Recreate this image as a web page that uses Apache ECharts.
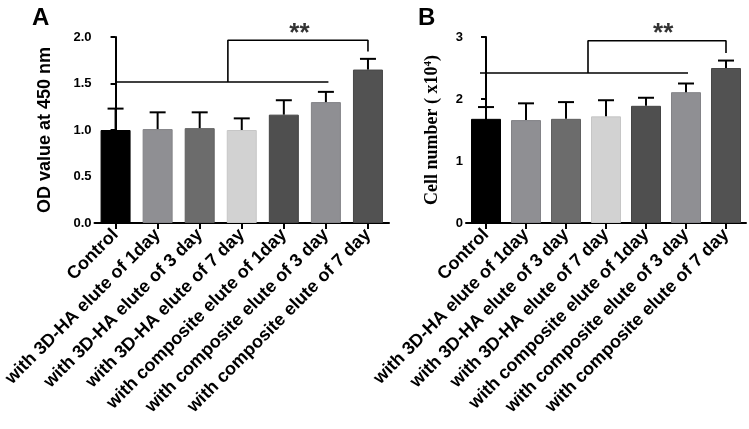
<!DOCTYPE html>
<html><head><meta charset="utf-8">
<script src="https://cdn.jsdelivr.net/npm/echarts@6/dist/echarts.min.js"></script>
<style>html,body{margin:0;padding:0;background:#fff}#c{width:749px;height:429px}</style>
</head><body><div id="c"></div>
<script>
const categories = ['Control','with 3D-HA elute of 1day','with 3D-HA elute of 3 day','with 3D-HA elute of 7 day','with composite elute of 1day','with composite elute of 3 day','with composite elute of 7 day'];
const odMeans = [1.0, 1.01, 1.02, 1.0, 1.165, 1.30, 1.65];
const odErrors = [0.23, 0.18, 0.17, 0.125, 0.155, 0.11, 0.115];
const cellMeans = [1.68, 1.66, 1.68, 1.72, 1.89, 2.11, 2.50];
const cellErrors = [0.19, 0.27, 0.27, 0.26, 0.13, 0.14, 0.12];
const odTicks = [0, 0.5, 1.0, 1.5, 2.0];
const cellTicks = [0, 1, 2, 3];
// significance brackets: [x, y] in category-index / value units
const odSigLine = [[0, 1.516], [5.06, 1.516]];
const odSigBracket = [[2.67, 1.516], [2.67, 1.965], [6, 1.965], [6, 1.845]];
const odStar = [[4.37, 2.08]];
const cellSigLine = [[-0.15, 2.42], [5.05, 2.42]];
const cellSigBracket = [[2.55, 2.42], [2.55, 2.94], [6, 2.94], [6, 2.74]];
const cellStar = [[4.43, 3.12]];

const barColors = ['#000000','#8f8f93','#6c6c6c','#d2d2d2','#4f4f4f','#8f8f93','#525252'];
const barBorders = ['#000000','#838387','#606060','#c6c6c6','#444444','#838387','#474747'];

function barData(vals){ return vals.map((v,i)=>({value:v,itemStyle:{color:barColors[i],borderColor:barBorders[i],borderWidth:1}})); }
function errData(m,e){ return m.map((v,i)=>[i, v, v+e[i]]); }
function errRender(params, api){
  const x = api.value(0);
  const p1 = api.coord([x, api.value(1)]);
  const p2 = api.coord([x, api.value(2)]);
  const half = 8;
  return {type:'group', children:[
    {type:'line', shape:{x1:p1[0],y1:p1[1],x2:p2[0],y2:p2[1]}, style:{stroke:'#000',lineWidth:2}},
    {type:'line', shape:{x1:p2[0]-half,y1:p2[1],x2:p2[0]+half,y2:p2[1]}, style:{stroke:'#000',lineWidth:2}}
  ]};
}
const axisLineStyle = {show:true, lineStyle:{color:'#000', width:2}};
const xLabel = {interval:0, rotate:45, fontSize:18, fontWeight:'bold', color:'#000', fontFamily:'Liberation Sans, Arial', margin:9};
const yLabel = {fontSize:13, fontWeight:'bold', color:'#000', fontFamily:'Liberation Sans, Arial', margin:3};

const chart = echarts.init(document.getElementById('c'), null, {renderer:'canvas'});
chart.setOption({
  animation:false,
  backgroundColor:'#fff',
  title:[
    {text:'A', left:27, top:1, textStyle:{fontSize:24, fontWeight:'bold', color:'#000', fontFamily:'Liberation Sans, Arial'}},
    {text:'B', left:413, top:1, textStyle:{fontSize:24, fontWeight:'bold', color:'#000', fontFamily:'Liberation Sans, Arial'}}
  ],
  grid:[
    {left:93, right:360, top:37, bottom:206},
    {left:466, right:3, top:37, bottom:206}
  ],
  xAxis:[
    {type:'category', gridIndex:0, data:categories, axisLine:axisLineStyle, axisTick:{show:true, alignWithLabel:true, length:6, lineStyle:{width:2,color:'#000'}}, axisLabel:xLabel},
    {type:'category', gridIndex:1, data:categories, axisLine:axisLineStyle, axisTick:{show:true, alignWithLabel:true, length:6, lineStyle:{width:2,color:'#000'}}, axisLabel:xLabel},
    {type:'value', gridIndex:0, min:-0.5, max:6.5, show:false},
    {type:'value', gridIndex:1, min:-0.5, max:6.5, show:false}
  ],
  yAxis:[
    {type:'value', gridIndex:0, min:odTicks[0], max:odTicks[odTicks.length-1], interval:0.5, splitLine:{show:false}, axisLine:axisLineStyle, axisTick:{show:true,length:5,lineStyle:{width:2,color:'#000'}}, axisLabel:Object.assign({formatter:v=>v.toFixed(1)}, yLabel),
     name:'OD value at 450 nm', nameLocation:'middle', nameGap:40, nameRotate:90, nameTextStyle:{fontSize:18, fontWeight:'bold', color:'#000', fontFamily:'Liberation Sans, Arial'}},
    {type:'value', gridIndex:1, min:cellTicks[0], max:cellTicks[cellTicks.length-1], interval:1, splitLine:{show:false}, axisLine:axisLineStyle, axisTick:{show:true,length:5,lineStyle:{width:2,color:'#000'}}, axisLabel:yLabel,
     name:'{a|Cell number ( x10}{s|4}{a|)}', nameLocation:'middle', nameGap:24, nameRotate:90,
     nameTextStyle:{rich:{a:{fontSize:18, fontWeight:'bold', color:'#000', fontFamily:'Liberation Serif, Times New Roman'}, s:{fontSize:11, fontWeight:'bold', color:'#000', fontFamily:'Liberation Serif, Times New Roman', verticalAlign:'top', padding:[0,0,8,0]}}}}
  ],
  series:[
    {type:'bar', xAxisIndex:0, yAxisIndex:0, barWidth:30, data:barData(odMeans), z:2},
    {type:'bar', xAxisIndex:1, yAxisIndex:1, barWidth:30, data:barData(cellMeans), z:2},
    {type:'custom', xAxisIndex:0, yAxisIndex:0, data:errData(odMeans, odErrors), renderItem:errRender, encode:{x:0, y:[1,2]}, z:3},
    {type:'custom', xAxisIndex:1, yAxisIndex:1, data:errData(cellMeans, cellErrors), renderItem:errRender, encode:{x:0, y:[1,2]}, z:3},
    {type:'line', xAxisIndex:2, yAxisIndex:0, data:odSigLine, symbol:'none', lineStyle:{color:'#000', width:1.6}, z:4},
    {type:'line', xAxisIndex:2, yAxisIndex:0, data:odSigBracket, symbol:'none', lineStyle:{color:'#000', width:1.6}, z:4},
    {type:'line', xAxisIndex:3, yAxisIndex:1, data:cellSigLine, symbol:'none', lineStyle:{color:'#000', width:1.6}, z:4},
    {type:'line', xAxisIndex:3, yAxisIndex:1, data:cellSigBracket, symbol:'none', lineStyle:{color:'#000', width:1.6}, z:4},
    {type:'scatter', xAxisIndex:2, yAxisIndex:0, data:odStar, symbolSize:0, clip:false, label:{show:true, position:'inside', formatter:'**', fontSize:26, fontWeight:'bold', color:'#000', fontFamily:'Liberation Sans, Arial', offset:[0,4]}},
    {type:'scatter', xAxisIndex:3, yAxisIndex:1, data:cellStar, symbolSize:0, clip:false, label:{show:true, position:'inside', formatter:'**', fontSize:26, fontWeight:'bold', color:'#000', fontFamily:'Liberation Sans, Arial', offset:[0,4]}}
  ]
});
</script></body></html>
